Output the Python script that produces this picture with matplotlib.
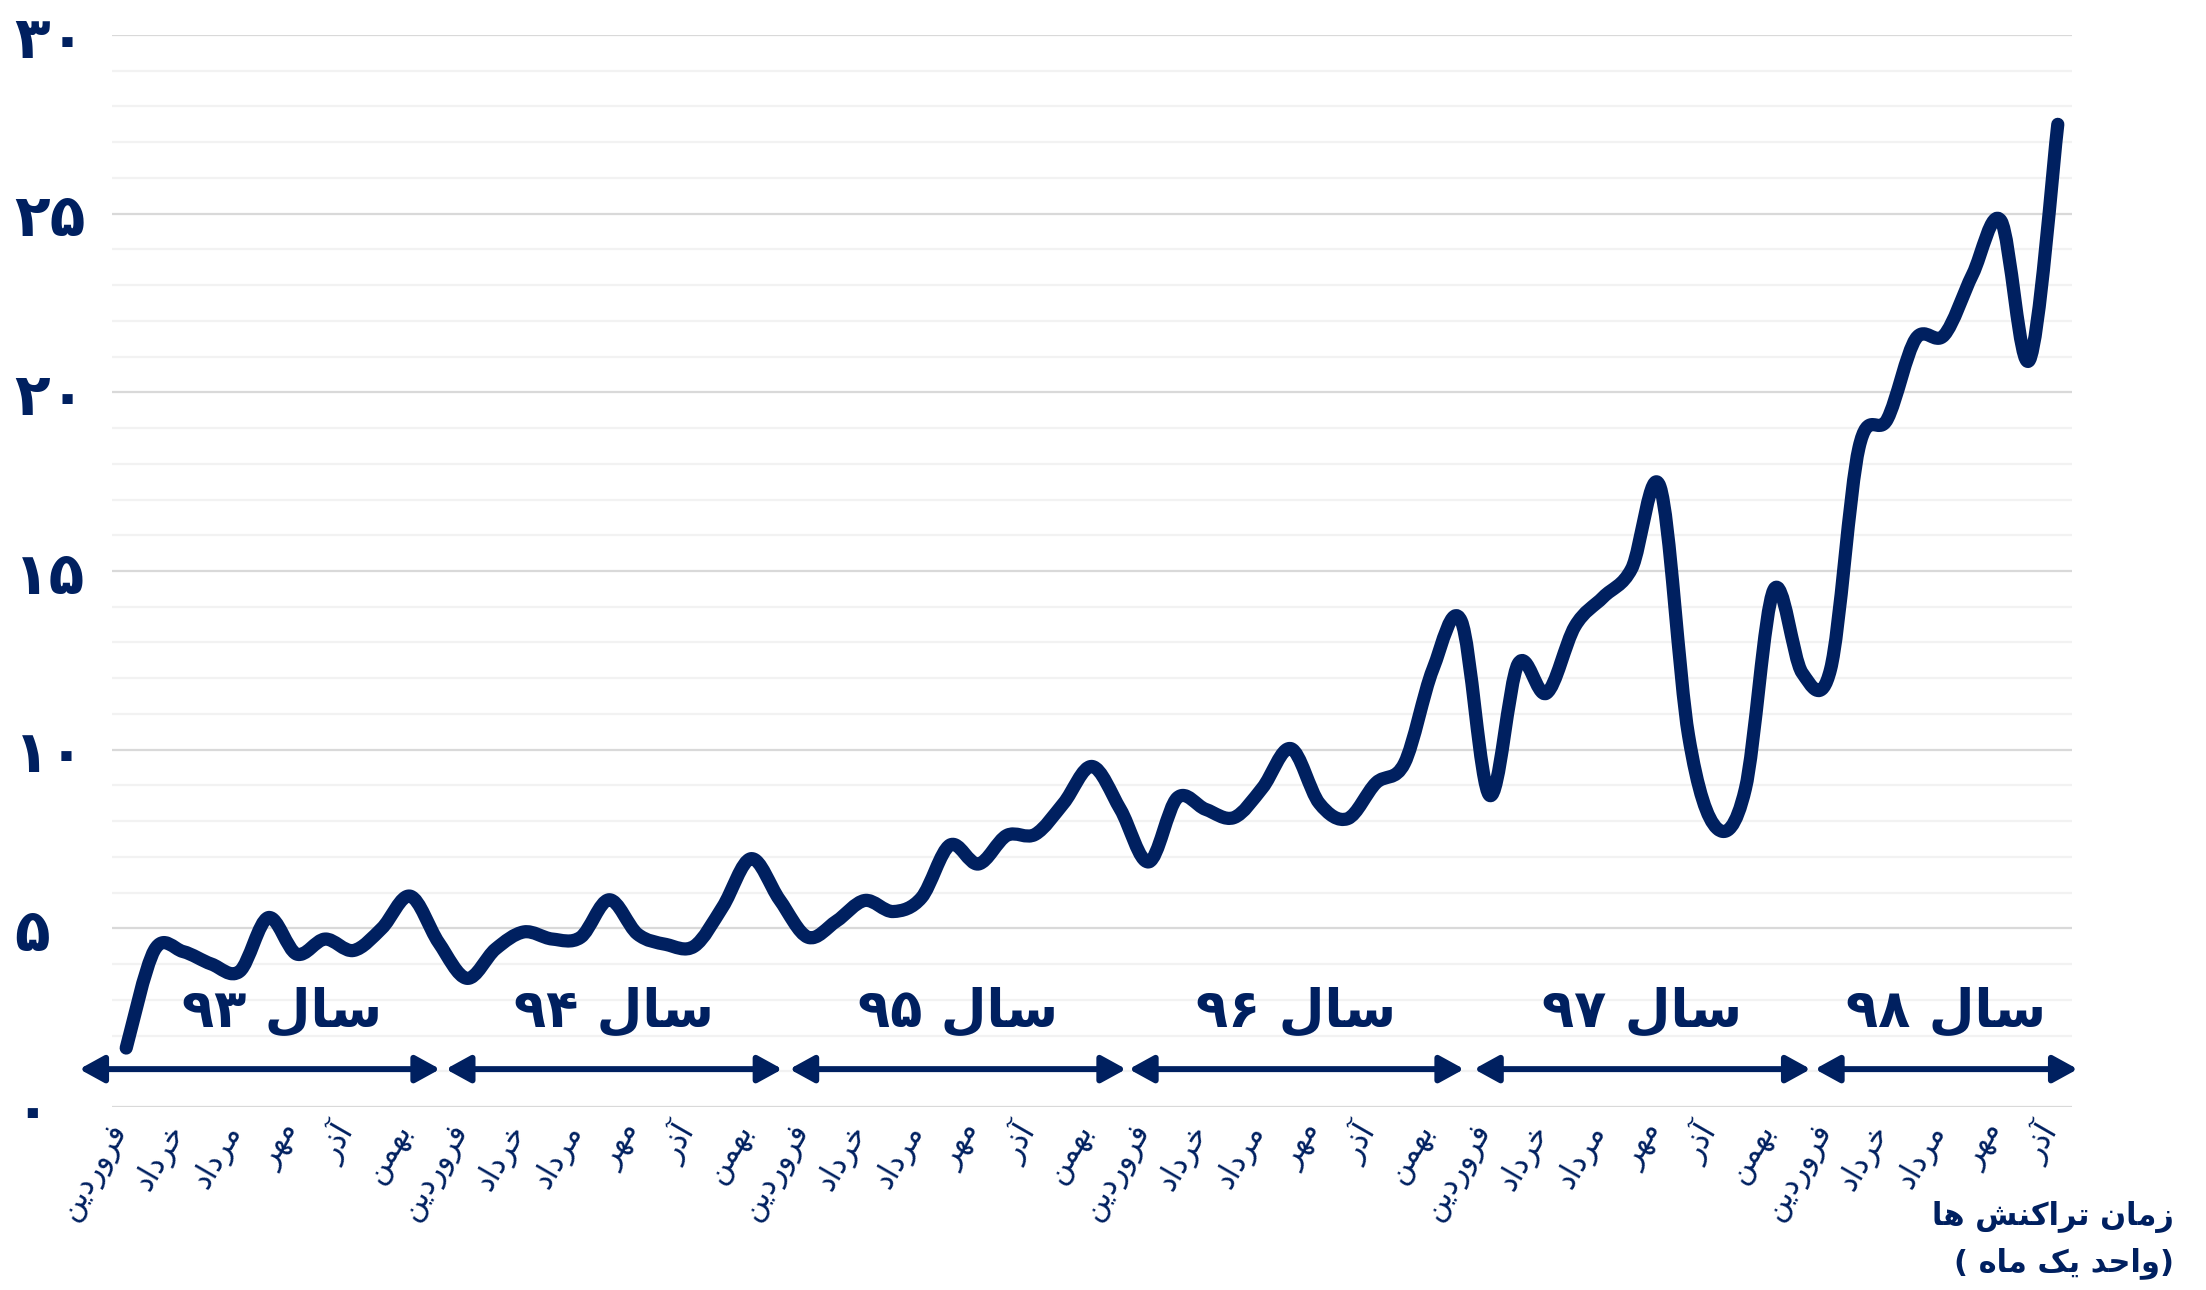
import numpy as np
import matplotlib
matplotlib.use('Agg')
import matplotlib.pyplot as plt
from matplotlib.path import Path
from matplotlib.patches import PathPatch
import matplotlib.transforms as mtransforms

plt.rcParams['font.family'] = ['DejaVu Sans']

# ---- data ----
years = ['۹۳', '۹۴', '۹۵', '۹۶', '۹۷', '۹۸']
months = ['فروردین', 'اردیبهشت', 'خرداد', 'تیر', 'مرداد', 'شهریور',
          'مهر', 'آبان', 'آذر', 'دی', 'بهمن', 'اسفند']
v93 = [1.65, 4.4, 4.35, 4.0, 3.8, 5.3, 4.28, 4.7, 4.38, 5.0, 5.9, 4.6]
v94 = [3.6, 4.42, 4.9, 4.7, 4.75, 5.8, 4.84, 4.55, 4.5, 5.6, 6.95, 5.8]
v95 = [4.75, 5.2, 5.78, 5.47, 5.86, 7.33, 6.8, 7.6, 7.63, 8.5, 9.53, 8.33]
v96 = [6.86, 8.65, 8.33, 8.1, 8.93, 10.03, 8.5, 8.07, 9.07, 9.62, 12.25, 13.6]
v97 = [8.72, 12.4, 11.58, 13.45, 14.27, 15.07, 17.35, 10.4, 7.8, 8.9, 14.47, 12.15]
v98 = [12.25, 18.45, 19.25, 21.5, 21.6, 23.3, 24.8, 20.9, 27.5]
y_ticks = [0, 5, 10, 15, 20, 25, 30]
y_labels = ['۰', '۵', '۱۰', '۱۵', '۲۰', '۲۵', '۳۰']
x_title = ['زمان تراکنش ها', '(واحد یک ماه )']

values = np.array(v93 + v94 + v95 + v96 + v97 + v98)
n = len(values)

navy = '#002060'

# ---- minimal persian shaping (isolated, final, initial, medial) ----
FORMS = {
    'ا': ('\uFE8D', '\uFE8E', None, None),
    'آ': ('\uFE81', '\uFE82', None, None),
    'د': ('\uFEA9', '\uFEAA', None, None),
    'ذ': ('\uFEAB', '\uFEAC', None, None),
    'ر': ('\uFEAD', '\uFEAE', None, None),
    'ز': ('\uFEAF', '\uFEB0', None, None),
    'و': ('\uFEED', '\uFEEE', None, None),
    'ب': ('\uFE8F', '\uFE90', '\uFE91', '\uFE92'),
    'ت': ('\uFE95', '\uFE96', '\uFE97', '\uFE98'),
    'ح': ('\uFEA1', '\uFEA2', '\uFEA3', '\uFEA4'),
    'خ': ('\uFEA5', '\uFEA6', '\uFEA7', '\uFEA8'),
    'س': ('\uFEB1', '\uFEB2', '\uFEB3', '\uFEB4'),
    'ش': ('\uFEB5', '\uFEB6', '\uFEB7', '\uFEB8'),
    'ف': ('\uFED1', '\uFED2', '\uFED3', '\uFED4'),
    'ل': ('\uFEDD', '\uFEDE', '\uFEDF', '\uFEE0'),
    'م': ('\uFEE1', '\uFEE2', '\uFEE3', '\uFEE4'),
    'ن': ('\uFEE5', '\uFEE6', '\uFEE7', '\uFEE8'),
    'ه': ('\uFEE9', '\uFEEA', '\uFEEB', '\uFEEC'),
    'ی': ('\uFBFC', '\uFBFD', '\uFBFE', '\uFBFF'),
    'ک': ('\uFB8E', '\uFB8F', '\uFB90', '\uFB91'),
}
DIGITS = set('۰۱۲۳۴۵۶۷۸۹')


def fa(text):
    out = []
    for i, c in enumerate(text):
        if c not in FORMS:
            out.append(c)
            continue
        iso, fin, ini, med = FORMS[c]
        prev = text[i - 1] if i > 0 else ''
        nxt = text[i + 1] if i + 1 < len(text) else ''
        jp = prev in FORMS and FORMS[prev][2] is not None
        jn = ini is not None and nxt in FORMS
        if jp and jn:
            out.append(med)
        elif jp:
            out.append(fin)
        elif jn:
            out.append(ini)
        else:
            out.append(iso)
    # visual order: reverse, keep digit runs left to right, mirror brackets
    rev = out[::-1]
    res, run = [], []
    for c in rev:
        if c in DIGITS:
            run.append(c)
        else:
            res += run[::-1]
            run = []
            res.append({'(': ')', ')': '('}.get(c, c))
    res += run[::-1]
    return ''.join(res)


fig = plt.figure(figsize=(22.06, 12.9), dpi=100)
ax = fig.add_axes([112 / 2206, 1 - 1107 / 1290, 1960 / 2206, 1072 / 1290])

ax.set_xlim(-0.5, n - 0.5)
ax.set_ylim(0, 30)
for s in ax.spines.values():
    s.set_visible(False)

ax.set_yticks(y_ticks)
ax.set_yticks(range(0, 31), minor=True)
ax.grid(which='minor', axis='y', color='#f2f2f2', lw=1.6)
ax.grid(which='major', axis='y', color='#d9d9d9', lw=1.6)
ax.set_axisbelow(True)
ax.set_yticklabels(y_labels, fontsize=42, fontweight='bold', color=navy)
for lbl in ax.get_yticklabels():
    lbl.set_horizontalalignment('left')
ax.tick_params(axis='y', which='both', length=0, pad=70.5)

# month labels every second month
xt = list(range(0, n, 2))
ax.set_xticks(xt)
ax.set_xticklabels([fa(months[i % 12]) for i in xt], rotation=60, ha='right',
                   fontsize=22, color=navy)
ax.tick_params(axis='x', length=0, pad=8)
off = mtransforms.ScaledTranslation(8 / 100, 0, fig.dpi_scale_trans)
for lbl in ax.get_xticklabels():
    lbl.set_transform(lbl.get_transform() + off)

# smoothed line (cubic bezier through the monthly points)
pts = np.column_stack([np.arange(n), values])
verts = [pts[0]]
codes = [Path.MOVETO]
for i in range(n - 1):
    p0 = pts[max(i - 1, 0)]
    p1 = pts[i]
    p2 = pts[i + 1]
    p3 = pts[min(i + 2, n - 1)]
    verts += [p1 + (p2 - p0) / 6, p2 - (p3 - p1) / 6, p2]
    codes += [Path.CURVE4] * 3
ax.add_patch(PathPatch(Path(verts, codes), fill=False, edgecolor=navy, lw=9.5,
                       capstyle='round', joinstyle='round', zorder=3))

# year spans with double arrows
arrow_start = [-1.65, 11.25, 23.35, 35.3, 47.45, 59.45]
arrow_end = [11.05, 23.1, 35.2, 47.1, 59.3, 68.7]
for k, yr in enumerate(years):
    ax.annotate('', xy=(arrow_end[k], 1.06), xytext=(arrow_start[k], 1.06),
                arrowprops=dict(arrowstyle='<|-|>,head_length=0.4,head_width=0.22',
                                color=navy, lw=4.3, mutation_scale=37,
                                shrinkA=0, shrinkB=0),
                annotation_clip=False)
    cx = (arrow_start[k] + arrow_end[k]) / 2 if k else 5.5
    ax.text(cx, 2.65, fa('سال ' + yr), ha='center', va='center',
            fontsize=38, fontweight='bold', color=navy)

fig.text(2174 / 2206, 1 - 1217 / 1290, fa(x_title[0]), ha='right', va='center',
         fontsize=22, fontweight='bold', color=navy)
fig.text(2174 / 2206, 1 - 1263 / 1290, fa(x_title[1]), ha='right', va='center',
         fontsize=22, fontweight='bold', color=navy)

fig.savefig('out.png', dpi=100, facecolor='white')
